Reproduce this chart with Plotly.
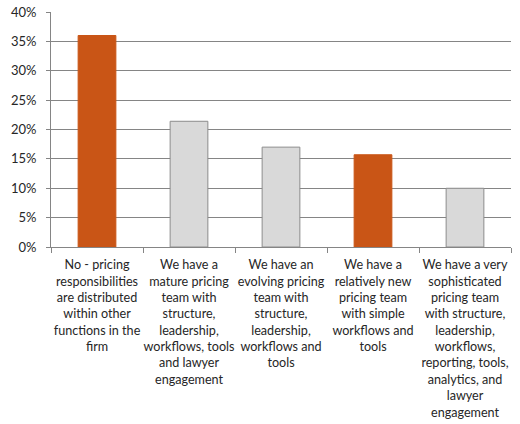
import plotly.graph_objects as go

categories = [
    "No - pricing<br>responsibilities<br>are distributed<br>within other<br>functions in the<br>firm",
    "We have a<br>mature pricing<br>team with<br>structure,<br>leadership,<br>workflows, tools<br>and lawyer<br>engagement",
    "We have an<br>evolving pricing<br>team with<br>structure,<br>leadership,<br>workflows and<br>tools",
    "We have a<br>relatively new<br>pricing team<br>with simple<br>workflows and<br>tools",
    "We have a very<br>sophisticated<br>pricing team<br>with structure,<br>leadership,<br>workflows,<br>reporting, tools,<br>analytics, and<br>lawyer<br>engagement",
]
values = [0.36, 0.214, 0.17, 0.157, 0.10]
fill_colors = ["#C95516", "#D9D9D9", "#D9D9D9", "#C95516", "#D9D9D9"]
line_colors = ["#C95516", "#8C8C8C", "#8C8C8C", "#C95516", "#8C8C8C"]

fig = go.Figure(go.Bar(
    x=categories, y=values,
    marker=dict(color=fill_colors, line=dict(color=line_colors, width=1)),
))

font = "Lato, 'Open Sans', sans-serif"
fig.update_layout(
    width=520, height=424,
    margin=dict(l=51, r=9, t=12, b=177),
    paper_bgcolor="white", plot_bgcolor="white",
    bargap=0.59,
    showlegend=False,
    font=dict(family=font, size=12.6, color="#262626"),
)
fig.update_yaxes(
    range=[0, 0.4], dtick=0.05, tickformat=".0%",
    showgrid=True, gridcolor="#858585", gridwidth=1,
    showline=True, linecolor="#858585", linewidth=1,
    ticks="outside", ticklen=4, tickcolor="#858585",
    zeroline=False, automargin=False, ticklabelstandoff=7,
    tickfont=dict(size=13, color="#262626"),
)
fig.update_xaxes(
    showline=True, linecolor="#858585", linewidth=1,
    ticks="outside", ticklen=5, tickcolor="#858585",
    tickson="boundaries", tickangle=0, automargin=False,
    ticklabelstandoff=6,
    tickfont=dict(size=12.6, color="#262626"),
)
fig.write_html("out.html")
